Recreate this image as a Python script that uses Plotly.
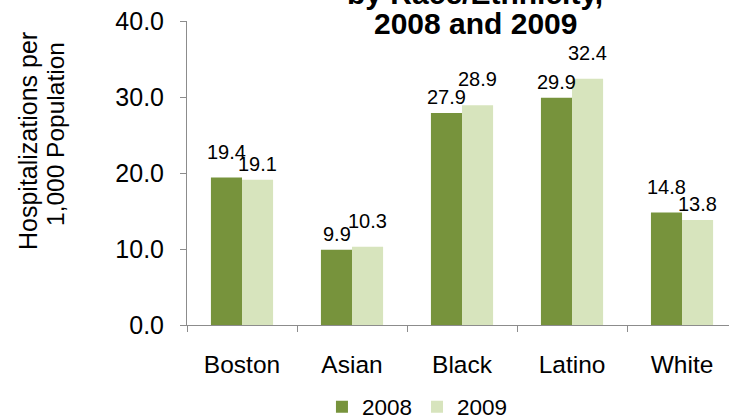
import plotly.graph_objects as go

categories = ["Boston", "Asian", "Black", "Latino", "White"]
values_2008 = [19.4, 9.9, 27.9, 29.9, 14.8]
values_2009 = [19.1, 10.3, 28.9, 32.4, 13.8]
series_names = ["2008", "2009"]
y_tick_vals = [0, 10, 20, 30, 40]
y_tick_text = ["0.0", "10.0", "20.0", "30.0", "40.0"]
title_lines = ["by Race/Ethnicity,", "2008 and 2009"]
y_title_lines = ["Hospitalizations per", "1,000 Population"]

FONT = "Liberation Sans, Arial, Helvetica, sans-serif"
C2008 = "#77933C"
C2009 = "#D7E4BD"
AXIS = "#8C8C8C"
W, H = 729, 419
L, R, T, B = 187, 0, 21, 94
PW, PH = W - L - R, H - T - B

fig = go.Figure()
for name, vals, col in [(series_names[0], values_2008, C2008), (series_names[1], values_2009, C2009)]:
    fig.add_trace(go.Bar(
        x=categories, y=vals, name=name,
        marker=dict(color=col, line=dict(width=0)),
    ))

# data labels: taller bar of each pair gets raised to avoid overlap (like the source chart)
annotations = []
for i, cat in enumerate(categories):
    pair = [values_2008[i], values_2009[i]]
    for j, v in enumerate(pair):
        taller = v > pair[1 - j]
        annotations.append(dict(
            x=cat, y=v, xref="x", yref="y", xshift=(-15.5 if j == 0 else 15.5),
            yshift=(13 if taller else 3), yanchor="bottom", xanchor="center",
            text=f"{v:.1f}", showarrow=False,
            font=dict(size=20, color="#000000", family=FONT),
        ))

def px_to_paper(xp, yp):
    return (xp - L) / PW, (T + PH - yp) / PH

tx, ty1 = px_to_paper(475, -6.5)
_, ty2 = px_to_paper(475, 23.5)
ax1, ay1 = px_to_paper(28, 141)
ax2, ay2 = px_to_paper(55, 134)

annotations += [
    dict(text="<b>" + title_lines[0] + "</b>", x=tx, y=ty1, xref="paper", yref="paper",
         xanchor="center", yanchor="middle", showarrow=False, font=dict(size=30, family=FONT)),
    dict(text="<b>" + title_lines[1] + "</b>", x=tx, y=ty2, xref="paper", yref="paper",
         xanchor="center", yanchor="middle", showarrow=False, font=dict(size=30, family=FONT)),
    dict(text=y_title_lines[0], x=ax1, y=ay1, xref="paper", yref="paper", xanchor="center",
         yanchor="middle", showarrow=False, textangle=-90, font=dict(size=25, family=FONT)),
    dict(text=y_title_lines[1], x=ax2, y=ay2, xref="paper", yref="paper", xanchor="center",
         yanchor="middle", showarrow=False, textangle=-90, font=dict(size=24.5, family=FONT)),
]

fig.update_layout(
    width=W, height=H,
    margin=dict(l=L, r=R, t=T, b=B, autoexpand=False),
    paper_bgcolor="white", plot_bgcolor="white",
    barmode="group", bargap=0.435, bargroupgap=0,
    font=dict(family=FONT, color="#000000"),
    showlegend=True,
    legend=dict(orientation="h", x=0.249, xanchor="left",
                yref="container", y=(H - 407) / H, yanchor="middle",
                font=dict(size=22.5, family=FONT), itemwidth=30, traceorder="normal"),
    xaxis=dict(range=[-0.5, 4.427], showline=True, linecolor=AXIS, linewidth=1,
               ticks="outside", tickson="boundaries", ticklen=6, tickcolor=AXIS,
               tickfont=dict(size=24.5, family=FONT), ticklabelstandoff=18,
               showgrid=False, zeroline=False, automargin=False),
    yaxis=dict(range=[0, 40], tickvals=y_tick_vals, ticktext=y_tick_text,
               showline=True, linecolor=AXIS, linewidth=1,
               ticks="outside", ticklen=6, tickcolor=AXIS,
               tickfont=dict(size=25, family=FONT), ticklabelstandoff=11,
               showgrid=False, zeroline=False, automargin=False),
    annotations=annotations,
)

fig.write_html("out.html", config={"displayModeBar": False, "staticPlot": True},
               post_script="document.body.style.margin='0';")
